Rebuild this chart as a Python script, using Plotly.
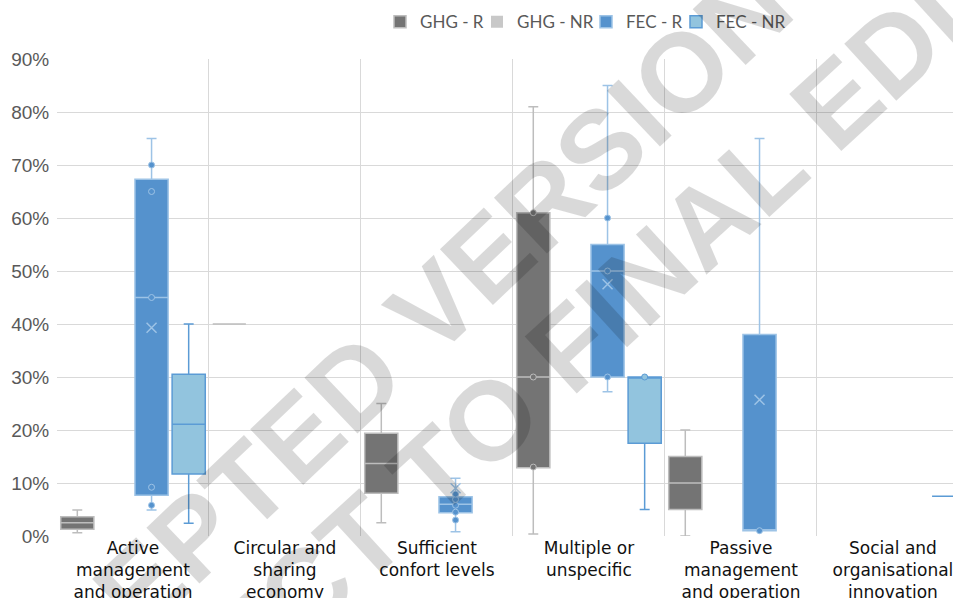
import plotly.graph_objects as go

# ---------------- data (values in percent) ----------------
categories = [
    "Active<br>management<br>and operation",
    "Circular and<br>sharing<br>economy",
    "Sufficient<br>confort levels",
    "Multiple or<br>unspecific",
    "Passive<br>management<br>and operation",
    "Social and<br>organisational<br>innovation",
]
series_names = ["GHG - R", "GHG - NR", "FEC - R", "FEC - NR"]

ghg_r_low = [0.6, 40, 2.5, 0.4, 0, None]
ghg_r_q1 = [1.26, 40, 8.05, 12.9, 5, None]
ghg_r_med = [2.5, 40, 13.7, 30, 10, None]
ghg_r_q3 = [3.65, 40, 19.4, 61, 15, None]
ghg_r_high = [4.9, 40, 25, 81, 20, None]

ghg_nr_low = [None, None, None, None, None, None]
ghg_nr_q1 = [None, None, None, None, None, None]
ghg_nr_med = [None, None, None, None, None, None]
ghg_nr_q3 = [None, None, None, None, None, None]
ghg_nr_high = [None, None, None, None, None, None]

fec_r_low = [4.9, None, 0.8, 27.2, 1, None]
fec_r_q1 = [7.7, None, 4.4, 30, 1, None]
fec_r_med = [45, None, 6.0, 50, 1, None]
fec_r_q3 = [67.3, None, 7.4, 55, 38, None]
fec_r_high = [75, None, 10.9, 85, 75, None]
fec_r_mean = [39.3, None, 9.0, 47.5, 25.7, None]

fec_nr_low = [2.4, None, None, 5, None, 7.5]
fec_nr_q1 = [11.7, None, None, 17.5, None, 7.5]
fec_nr_med = [21.1, None, None, 30, None, 7.5]
fec_nr_q3 = [30.5, None, None, 30, None, 7.5]
fec_nr_high = [40, None, None, 30, None, 7.5]

# individual data points shown as markers (category index, value)
ghg_r_pts_cat = [3, 3, 3]
ghg_r_pts_val = [61, 30, 13]
fec_r_pts_cat = [0, 0, 0, 0, 0, 2, 2, 2, 2, 2, 3, 3, 3, 4]
fec_r_pts_val = [70, 65, 45, 9.2, 5.8, 7.9, 6.9, 5.8, 4.5, 3.0, 60, 50, 30, 1]
fec_nr_pts_cat = [3]
fec_nr_pts_val = [30]

# ---------------- styles ----------------
fills = ["#747474", "#c8c8c8", "#5592cd", "#92c4de"]
borders = ["#bdbdbd", "#8c8c8c", "#9dc3e6", "#5b9bd5"]
legend_widths = [52, 64, 45, 80]

stats = [
    (ghg_r_low, ghg_r_q1, ghg_r_med, ghg_r_q3, ghg_r_high),
    (ghg_nr_low, ghg_nr_q1, ghg_nr_med, ghg_nr_q3, ghg_nr_high),
    (fec_r_low, fec_r_q1, fec_r_med, fec_r_q3, fec_r_high),
    (fec_nr_low, fec_nr_q1, fec_nr_med, fec_nr_q3, fec_nr_high),
]
points = {0: (ghg_r_pts_cat, ghg_r_pts_val), 2: (fec_r_pts_cat, fec_r_pts_val),
          3: (fec_nr_pts_cat, fec_nr_pts_val)}
means = {2: fec_r_mean}


def pct(v):
    return None if v is None else v / 100.0


fig = go.Figure()
for i, name in enumerate(series_names):
    lo, q1, md, q3, hi = stats[i]
    keep = [k for k in range(len(categories)) if md[k] is not None]
    if keep:
        box = dict(
            x=[categories[k] for k in keep],
            lowerfence=[pct(lo[k]) for k in keep], q1=[pct(q1[k]) for k in keep],
            median=[pct(md[k]) for k in keep], q3=[pct(q3[k]) for k in keep],
            upperfence=[pct(hi[k]) for k in keep],
            line=dict(color=borders[i], width=1.5),
        )
    else:
        # series listed in the legend but with no values in these categories
        box = dict(
            x=categories,
            lowerfence=[pct(v) for v in lo], q1=[pct(v) for v in q1],
            median=[pct(v) for v in md], q3=[pct(v) for v in q3],
            upperfence=[pct(v) for v in hi],
            line=dict(color=borders[i], width=0),
        )
    fig.add_trace(go.Box(
        name=name, fillcolor=fills[i], whiskerwidth=0.3, boxpoints=False,
        legendwidth=legend_widths[i],
        offsetgroup=str(i), alignmentgroup="a", hoverinfo="skip", **box,
    ))
    if i in points:
        cats, vals = points[i]
        fig.add_trace(go.Box(
            x=[categories[c] for c in cats], y=[pct(v) for v in vals],
            boxpoints="all", jitter=0, pointpos=0,
            fillcolor="rgba(0,0,0,0)", line=dict(width=0, color="rgba(0,0,0,0)"),
            marker=dict(symbol="circle", size=6, color=fills[i],
                        line=dict(color=borders[i], width=1)),
            offsetgroup=str(i), alignmentgroup="a", showlegend=False, hoverinfo="skip",
        ))
    if i in means:
        mv = means[i]
        fig.add_trace(go.Box(
            x=[categories[c] for c in range(len(mv)) if mv[c] is not None],
            y=[pct(v) for v in mv if v is not None],
            boxpoints="all", jitter=0, pointpos=0,
            fillcolor="rgba(0,0,0,0)", line=dict(width=0, color="rgba(0,0,0,0)"),
            marker=dict(symbol="x-thin", size=10, color=borders[i],
                        line=dict(color=borders[i], width=1.5)),
            offsetgroup=str(i), alignmentgroup="a", showlegend=False, hoverinfo="skip",
        ))

watermark = "rgba(0,0,0,0.15)"
fig.add_annotation(text="<b>ACCEPTED VERSION</b>", xref="paper", yref="paper",
                   x=(354 - 57) / 896, y=(536 - 383) / 477, showarrow=False,
                   textangle=-43.5, font=dict(family="Liberation Sans", size=112, color=watermark),
                   xanchor="center", yanchor="middle")
fig.add_annotation(text="<b>SUBJECT TO FINAL EDITS</b>", xref="paper", yref="paper",
                   x=(526 - 57) / 896, y=(536 - 387) / 477, showarrow=False,
                   textangle=-42.5, font=dict(family="Liberation Sans", size=112, color=watermark),
                   xanchor="center", yanchor="middle")

fig.update_layout(
    width=953, height=598,
    margin=dict(l=57, r=0, t=59, b=62),
    paper_bgcolor="white", plot_bgcolor="white",
    boxmode="group", boxgap=0.023, boxgroupgap=0.107,
    showlegend=True,
    legend=dict(orientation="h", x=(397 - 17 - 57) / 896, xanchor="left", y=1.077,
                yanchor="middle",
                font=dict(family="Lato", size=17, color="#595959"),
                itemwidth=30, tracegroupgap=0, bgcolor="rgba(0,0,0,0)"),
    xaxis=dict(type="category", range=[-0.5, 5.395], tickson="boundaries",
               showgrid=True, gridcolor="#d9d9d9", gridwidth=1, ticks="",
               showline=False, zeroline=False, automargin=False,
               tickfont=dict(family="DejaVu Sans", size=17, color="#111111")),
    yaxis=dict(range=[0, 0.9], dtick=0.1, tickformat=".0%", showgrid=True,
               gridcolor="#d9d9d9", gridwidth=1, zeroline=False, showline=False,
               ticks="outside", ticklen=3, tickcolor="rgba(0,0,0,0)", automargin=False,
               tickfont=dict(family="Liberation Sans", size=19, color="#595959")),
)

fig.write_html("out.html", config={"displayModeBar": False},
               post_script="document.body.style.margin='0px';")
